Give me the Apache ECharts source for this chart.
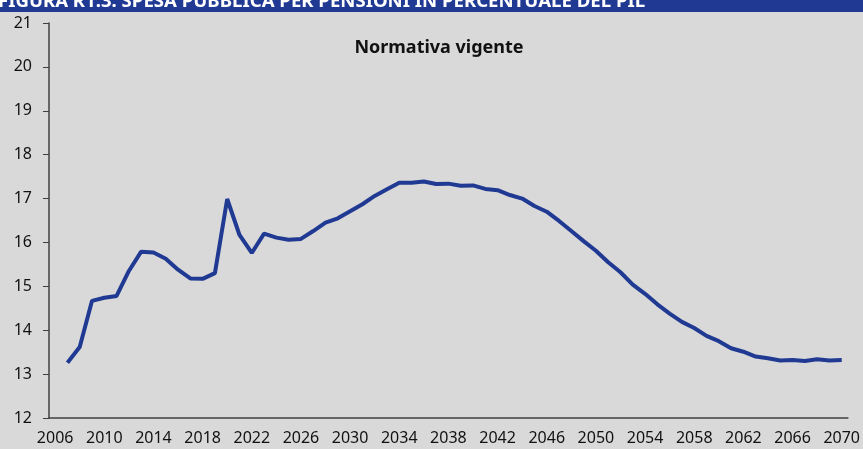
<!DOCTYPE html>
<html>
<head>
<meta charset="utf-8">
<script src="https://cdn.jsdelivr.net/npm/echarts@6/dist/echarts.min.js"></script>
<style>
  html, body { margin: 0; padding: 0; background: #d9d9d9; }
  #chart { width: 863px; height: 449px; }
</style>
</head>
<body>
<div id="chart"></div>
<script>
// anni 2006-2070 (il 2006 non ha dato)
const years = [];
for (let y = 2006; y <= 2070; y++) years.push(String(y));

// spesa pensionistica in % del PIL - normativa vigente
const spesaPil = [
  null, 13.26, 13.62, 14.67, 14.74, 14.78, 15.35, 15.79, 15.77, 15.63,
  15.38, 15.18, 15.17, 15.30, 16.99, 16.17, 15.76, 16.20, 16.11, 16.06,
  16.08, 16.26, 16.45, 16.55, 16.71, 16.87, 17.06, 17.21, 17.36, 17.36,
  17.39, 17.33, 17.34, 17.29, 17.30, 17.22, 17.19, 17.08, 17.00, 16.83,
  16.70, 16.49, 16.26, 16.03, 15.81, 15.55, 15.32, 15.04, 14.83, 14.59,
  14.38, 14.19, 14.05, 13.87, 13.75, 13.59, 13.51, 13.40, 13.36, 13.31,
  13.32, 13.30, 13.34, 13.31, 13.32
];

const yMin = 12, yMax = 21, yStep = 1;

const chart = echarts.init(document.getElementById("chart"));
const fontFam = "'Noto Sans', 'Open Sans', sans-serif";

const option = {
  backgroundColor: "#d9d9d9",
  animation: false,
  textStyle: { fontFamily: fontFam },
  graphic: [
    {
      type: "rect",
      left: 0, top: 0,
      shape: { width: 863, height: 12 },
      style: { fill: "#203a93" },
      z: 10
    },
    {
      type: "text",
      x: -2, y: 2,
      style: {
        text: "FIGURA R1.3: SPESA PUBBLICA PER PENSIONI IN PERCENTUALE DEL PIL",
        fill: "#ffffff",
        font: "bold 18.6px " + fontFam,
        verticalAlign: "middle"
      },
      z: 11
    },
    {
      type: "text",
      x: 439, y: 48,
      style: {
        text: "Normativa vigente",
        fill: "#111111",
        font: "bold 18px " + fontFam,
        align: "center",
        verticalAlign: "middle"
      },
      z: 11
    }
  ],
  grid: {
    left: 49,
    right: 13,
    top: 23,
    bottom: 31
  },
  xAxis: {
    type: "category",
    data: years,
    boundaryGap: true,
    axisLine: { lineStyle: { color: "#404040", width: 1.5 } },
    axisTick: {
      interval: 1,
      alignWithLabel: false,
      length: 5,
      lineStyle: { color: "#404040" }
    },
    axisLabel: {
      interval: 3,
      color: "#111111",
      fontSize: 16,
      margin: 12
    },
    splitLine: { show: false }
  },
  yAxis: {
    type: "value",
    min: yMin,
    max: yMax,
    interval: yStep,
    axisLine: { show: true, lineStyle: { color: "#404040", width: 1.5 } },
    axisTick: { show: true, length: 6, lineStyle: { color: "#404040" } },
    axisLabel: {
      color: "#111111",
      fontSize: 16,
      margin: 17
    },
    splitLine: { show: false }
  },
  series: [
    {
      name: "Normativa vigente",
      type: "line",
      data: spesaPil,
      symbol: "none",
      lineStyle: { color: "#203a93", width: 4 },
      itemStyle: { color: "#203a93" }
    }
  ]
};

chart.setOption(option);
</script>
</body>
</html>
